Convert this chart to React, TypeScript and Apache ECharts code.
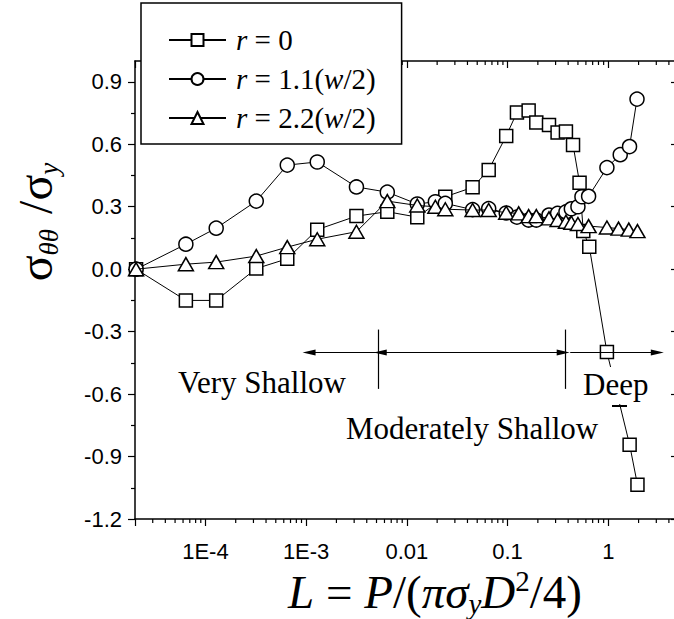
import React, { useEffect, useRef } from 'react';
import * as echarts from 'echarts';

// ---- axis ranges / ticks ----
const X_MIN = 2e-5;
const X_MAX = 4.6;
const Y_MIN = -1.2;
const Y_MAX = 1.0;
const Y_MAJOR = [-1.2, -0.9, -0.6, -0.3, 0, 0.3, 0.6, 0.9];
const Y_MINOR = [-1.05, -0.75, -0.45, -0.15, 0.15, 0.45, 0.75];
const X_MINOR = [
  3e-5, 4e-5, 5e-5, 6e-5, 7e-5, 8e-5, 9e-5,
  2e-4, 3e-4, 4e-4, 5e-4, 6e-4, 7e-4, 8e-4, 9e-4,
  2e-3, 3e-3, 4e-3, 5e-3, 6e-3, 7e-3, 8e-3, 9e-3,
  0.02, 0.03, 0.04, 0.05, 0.06, 0.07, 0.08, 0.09,
  0.2, 0.3, 0.4, 0.5, 0.6, 0.7, 0.8, 0.9,
  2, 3, 4,
];

// ---- series ----
const SERIES_NAMES = ['r = 0', 'r = 1.1(w/2)', 'r = 2.2(w/2)'];

const loadR0 = [2.05e-5, 6.4e-5, 1.28e-4, 3.2e-4, 6.5e-4, 1.29e-3, 3.16e-3, 6.4e-3, 0.0127, 0.0241, 0.045, 0.065, 0.097, 0.124, 0.162, 0.193, 0.258, 0.314, 0.38, 0.447, 0.519, 0.565, 0.648, 0.97, 1.63, 1.95];
const stressR0 = [0, -0.15, -0.15, 0.003, 0.05, 0.19, 0.255, 0.276, 0.25, 0.348, 0.393, 0.477, 0.64, 0.753, 0.762, 0.704, 0.693, 0.656, 0.661, 0.597, 0.415, 0.183, 0.108, -0.398, -0.843, -1.035];

const loadR1 = [2.05e-5, 6.4e-5, 1.28e-4, 3.2e-4, 6.5e-4, 1.29e-3, 3.16e-3, 6.4e-3, 0.0127, 0.0192, 0.0241, 0.045, 0.065, 0.097, 0.124, 0.162, 0.193, 0.258, 0.314, 0.38, 0.43, 0.5, 0.548, 0.638, 0.97, 1.315, 1.627, 1.93];
const stressR1 = [0, 0.12, 0.197, 0.327, 0.5, 0.515, 0.395, 0.37, 0.313, 0.324, 0.316, 0.286, 0.291, 0.27, 0.25, 0.236, 0.236, 0.26, 0.268, 0.275, 0.29, 0.3, 0.348, 0.35, 0.488, 0.55, 0.589, 0.817];

const loadR2 = [2.05e-5, 6.4e-5, 1.28e-4, 3.2e-4, 6.5e-4, 1.29e-3, 3.16e-3, 6.4e-3, 0.0127, 0.0192, 0.0241, 0.045, 0.065, 0.097, 0.129, 0.162, 0.193, 0.258, 0.314, 0.38, 0.43, 0.5, 0.638, 0.97, 1.265, 1.6, 1.95];
const stressR2 = [0, 0.024, 0.034, 0.063, 0.106, 0.144, 0.18, 0.327, 0.306, 0.3, 0.288, 0.284, 0.284, 0.271, 0.268, 0.255, 0.255, 0.244, 0.236, 0.228, 0.223, 0.217, 0.207, 0.2, 0.195, 0.19, 0.183];

// ---- annotations (data coords) ----
const ZONE_BOUNDS = [5.2e-3, 0.37];
const BOUND_Y = [-0.29, -0.575];
const ARROW_Y = -0.4;
const ARROWS: { from: number; to: number; both: boolean }[] = [
  { from: 5.2e-3, to: 1.07e-3, both: false },
  { from: 5.45e-3, to: 0.357, both: true },
  { from: 0.419, to: 3.07, both: false },
];

const SERIF = '"Liberation Serif", "Times New Roman", serif';
const SANS = '"Liberation Sans", Arial, sans-serif';

const zip = (xs: number[], ys: number[]) => xs.map((x, i) => [x, ys[i]]);

const fmtLog = (v: number) => {
  const l = Math.log10(v);
  if (Math.abs(l - Math.round(l)) > 1e-6) return '';
  const e = Math.round(l);
  if (e <= -3) return '1E' + e;
  if (e === -2) return '0.01';
  if (e === -1) return '0.1';
  if (e === 0) return '1';
  return '';
};

export default function App() {
  const ref = useRef<HTMLDivElement>(null);
  useEffect(() => {
    if (!ref.current) return;
    const chart = echarts.init(ref.current, undefined, { renderer: 'svg' });

    const markerItem = { color: '#fff', borderColor: '#000', borderWidth: 1.5 };
    const lineStyle = { color: '#000', width: 1 };

    const markLineData: any[] = [];
    ZONE_BOUNDS.forEach((x) => {
      markLineData.push([
        { coord: [x, BOUND_Y[0]], symbol: 'none' },
        { coord: [x, BOUND_Y[1]], symbol: 'none' },
      ]);
    });
    ARROWS.forEach((a) => {
      markLineData.push([
        { coord: [a.from, ARROW_Y], symbol: a.both ? 'triangle' : 'none', symbolSize: [6, 13] },
        { coord: [a.to, ARROW_Y], symbol: 'triangle', symbolSize: [6, 13] },
      ]);
    });

    const legendRich = {
      i: { fontFamily: SERIF, fontStyle: 'italic', fontSize: 29, color: '#000' },
    };
    const legendFmt: Record<string, string> = {
      'r = 0': '{i|r} = 0',
      'r = 1.1(w/2)': '{i|r} = 1.1({i|w}/2)',
      'r = 2.2(w/2)': '{i|r} = 2.2({i|w}/2)',
    };

    const option: any = {
      animation: false,
      grid: { left: 135, top: 61, bottom: 100, right: -1, containLabel: false, outerBoundsMode: 'none' },
      legend: {
        data: SERIES_NAMES,
        orient: 'vertical',
        left: 141,
        top: 3,
        padding: [22, 26, 11, 27],
        itemGap: 9,
        itemWidth: 57,
        itemHeight: 15,
        backgroundColor: '#fff',
        borderColor: '#000',
        borderWidth: 1.5,
        borderRadius: 0,
        selectedMode: false,
        formatter: (n: string) => legendFmt[n] || n,
        textStyle: {
          fontFamily: SERIF,
          fontSize: 29,
          lineHeight: 30,
          color: '#000',
          padding: [0, 0, 0, 5],
          rich: legendRich,
        },
      },
      xAxis: [
        {
          type: 'log',
          position: 'bottom',
          min: X_MIN,
          max: X_MAX,
          logBase: 10,
          axisLine: { show: true, onZero: false, lineStyle: { color: '#000', width: 1.5 } },
          axisTick: { show: true, inside: false, length: 7, lineStyle: { color: '#000', width: 1.2 } },
          axisLabel: {
            show: true,
            margin: 21,
            fontFamily: SANS,
            fontSize: 22,
            color: '#000',
            formatter: fmtLog,
            showMinLabel: true,
            showMaxLabel: true,
            hideOverlap: false,
          },
          splitLine: { show: false },
          minorTick: { show: false },
          name: '{i|L} = {i|P}/({i|πσ}{sub|y}{i|D}{sup|2}/4)',
          nameLocation: 'middle',
          nameGap: 18,
          nameTextStyle: {
            fontFamily: SERIF,
            fontSize: 47,
            color: '#000',
            padding: [0, 0, 0, 60],
            rich: {
              i: { fontFamily: SERIF, fontStyle: 'italic', fontSize: 47, color: '#000' },
              sub: { fontFamily: SERIF, fontStyle: 'italic', fontSize: 29, color: '#000', padding: [24, 0, 0, 0] },
              sup: { fontFamily: SERIF, fontSize: 29, color: '#000', padding: [0, 0, 22, 0] },
            },
          },
        },
        {
          type: 'log',
          position: 'top',
          min: X_MIN,
          max: X_MAX,
          logBase: 10,
          axisLine: { show: true, onZero: false, lineStyle: { color: '#000', width: 1.5 } },
          axisTick: { show: true, inside: true, length: 7, lineStyle: { color: '#000', width: 1.2 } },
          axisLabel: { show: false },
          splitLine: { show: false },
        },
      ],
      yAxis: [
        {
          type: 'value',
          position: 'left',
          min: Y_MIN,
          max: Y_MAX,
          interval: 0.3,
          axisLine: { show: true, onZero: false, lineStyle: { color: '#000', width: 1.5 } },
          axisTick: { show: true, inside: false, length: 7, customValues: Y_MAJOR, lineStyle: { color: '#000', width: 1.2 } },
          axisLabel: {
            show: true,
            customValues: Y_MAJOR,
            margin: 13,
            fontFamily: SANS,
            fontSize: 22,
            color: '#000',
            formatter: (v: number) => (v > 0.95 ? '' : v.toFixed(1)),
          },
          splitLine: { show: false },
          name: '{s|σ}{sub|θθ}  {s|/σ}{sub|y}',
          nameLocation: 'middle',
          nameRotate: 90,
          nameGap: 73,
          nameTextStyle: {
            color: '#000',
            fontSize: 30,
            fontFamily: SERIF,
            padding: [0, 0, 0, 136],
            rich: {
              s: { fontFamily: SERIF, fontSize: 48, color: '#000' },
              sub: { fontFamily: SERIF, fontStyle: 'italic', fontSize: 27, color: '#000', padding: [26, 0, 0, 0] },
            },
          },
        },
        {
          type: 'value',
          position: 'left',
          min: Y_MIN,
          max: Y_MAX,
          interval: 0.3,
          axisLine: { show: false },
          axisTick: { show: true, inside: false, length: 4, customValues: Y_MINOR, lineStyle: { color: '#000', width: 1.2 } },
          axisLabel: { show: false },
          splitLine: { show: false },
        },
        {
          type: 'value',
          position: 'right',
          min: Y_MIN,
          max: Y_MAX,
          interval: 0.3,
          axisLine: { show: true, onZero: false, lineStyle: { color: '#000', width: 1.5 } },
          axisTick: { show: true, inside: true, length: 4, customValues: Y_MAJOR, lineStyle: { color: '#000', width: 1.2 } },
          axisLabel: { show: false },
          splitLine: { show: false },
        },
      ],
      series: [
        {
          name: SERIES_NAMES[0],
          type: 'line',
          data: zip(loadR0, stressR0),
          symbol: 'rect',
          symbolSize: 13,
          lineStyle,
          itemStyle: markerItem,
          z: 3,
          markLine: {
            silent: true,
            animation: false,
            label: { show: false },
            lineStyle: { color: '#000', width: 1.2, type: 'solid' },
            emphasis: { disabled: true },
            data: markLineData,
          },
        },
        {
          name: SERIES_NAMES[1],
          type: 'line',
          data: zip(loadR1, stressR1),
          symbol: 'circle',
          symbolSize: 14,
          lineStyle,
          itemStyle: markerItem,
          z: 4,
        },
        {
          name: SERIES_NAMES[2],
          type: 'line',
          data: zip(loadR2, stressR2),
          symbol: 'triangle',
          symbolSize: [15, 13],
          lineStyle,
          itemStyle: markerItem,
          z: 5,
        },
        {
          name: 'minor-ticks',
          type: 'custom',
          silent: true,
          clip: false,
          data: X_MINOR.map((v) => [v, 0]),
          encode: { x: 0, y: 1 },
          renderItem: (_p: any, api: any) => {
            const v = api.value(0);
            const b = api.coord([v, Y_MIN]);
            const t = api.coord([v, Y_MAX]);
            const st = { stroke: '#000', lineWidth: 1.2 };
            return {
              type: 'group',
              children: [
                { type: 'line', shape: { x1: b[0], y1: b[1], x2: b[0], y2: b[1] + 4 }, style: st },
                { type: 'line', shape: { x1: t[0], y1: t[1], x2: t[0], y2: t[1] + 4 }, style: st },
              ],
            };
          },
        },
      ],
      graphic: [
        {
          type: 'text',
          left: 178,
          top: 367,
          z: 100,
          style: { text: 'Very Shallow', font: `31px ${SERIF}`, fill: '#000' },
        },
        {
          type: 'text',
          left: 346,
          top: 413,
          z: 100,
          style: { text: 'Moderately Shallow', font: `31px ${SERIF}`, fill: '#000' },
        },
        {
          type: 'text',
          left: 582,
          top: 367,
          z: 100,
          style: {
            text: 'Deep',
            font: `31px ${SERIF}`,
            fill: '#000',
            backgroundColor: '#fff',
            padding: [2, 1, 4, 1],
          },
        },
        {
          type: 'line',
          z: 101,
          shape: { x1: 612, y1: 406, x2: 627, y2: 406 },
          style: { stroke: '#000', lineWidth: 2 },
        },
      ],
    };

    chart.setOption(option);
    return () => chart.dispose();
  }, []);

  return (
    <div
      ref={ref}
      style={{ position: 'absolute', left: 0, top: 0, width: 674, height: 619, background: '#fff' }}
    />
  );
}
